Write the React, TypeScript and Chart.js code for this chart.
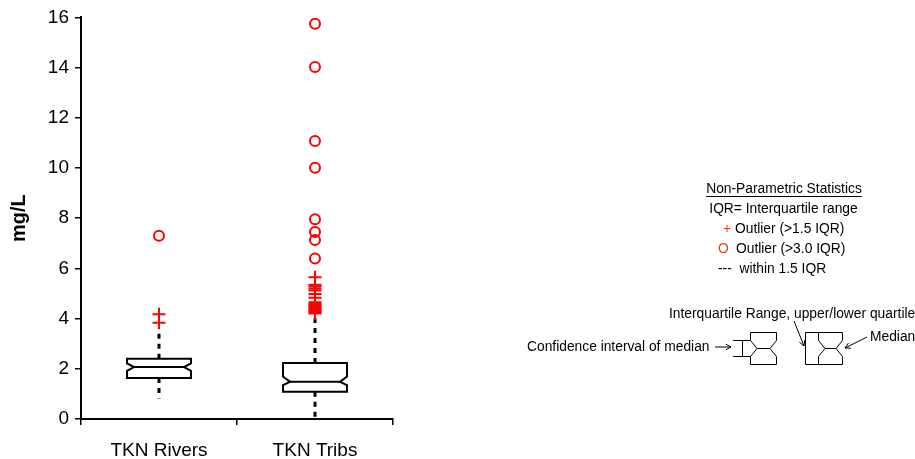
import React, { useEffect, useRef } from 'react';
import { Chart, registerables } from 'chart.js';

Chart.register(...registerables);

// ---- data ----
const categories = ['TKN Rivers', 'TKN Tribs'];
const whiskerLow = [0.82, 0.09];
const quartile1 = [1.63, 1.09];
const notchLow = [1.92, 1.35];
const medians = [2.07, 1.48];
const notchHigh = [2.22, 1.69];
const quartile3 = [2.4, 2.23];
const whiskerHigh = [3.55, 4.15];

const riversMildOutliers = [3.83, 4.17];
const riversExtremeOutliers = [7.3];
const tribsMildOutliers = [4.2, 4.24, 4.28, 4.33, 4.37, 4.42, 4.47, 4.52, 4.58, 4.65, 4.83, 4.98, 5.12, 5.2, 5.28, 5.35, 5.65];
const tribsExtremeOutliers = [6.39, 7.13, 7.45, 7.96, 10.01, 11.08, 14.02, 15.75];

const yMin = 0;
const yMax = 16;
const yStep = 2;

const FONT = '"Liberation Sans", Arial, sans-serif';
const RED = '#ff0000';

const boxPlugin = {
  id: 'notchedBoxes',
  beforeDatasetsDraw(chart: any) {
    const { ctx, scales } = chart;
    const x = scales.x;
    const y = scales.y;
    const spacing = x.getPixelForValue(1) - x.getPixelForValue(0);
    const half = spacing * 0.205;
    const depth = 7;
    ctx.save();
    categories.forEach((_, i) => {
      const cx = x.getPixelForValue(i);
      const L = cx - half;
      const R = cx + half;
      const yq3 = y.getPixelForValue(quartile3[i]);
      const yq1 = y.getPixelForValue(quartile1[i]);
      const ynh = y.getPixelForValue(notchHigh[i]);
      const ynl = y.getPixelForValue(notchLow[i]);
      const ym = y.getPixelForValue(medians[i]);
      const ywh = y.getPixelForValue(whiskerHigh[i]);
      const ywl = y.getPixelForValue(whiskerLow[i]);
      // whiskers
      ctx.strokeStyle = '#000';
      ctx.lineWidth = 3;
      ctx.setLineDash([5, 5]);
      ctx.beginPath();
      ctx.moveTo(cx, yq3);
      ctx.lineTo(cx, ywh);
      ctx.moveTo(cx, yq1);
      ctx.lineTo(cx, ywl);
      ctx.stroke();
      ctx.setLineDash([]);
      // box
      ctx.lineWidth = 2;
      ctx.lineJoin = 'miter';
      ctx.beginPath();
      ctx.moveTo(L, yq3);
      ctx.lineTo(R, yq3);
      ctx.lineTo(R, ynh);
      ctx.lineTo(R - depth, ym);
      ctx.lineTo(R, ynl);
      ctx.lineTo(R, yq1);
      ctx.lineTo(L, yq1);
      ctx.lineTo(L, ynl);
      ctx.lineTo(L + depth, ym);
      ctx.lineTo(L, ynh);
      ctx.closePath();
      ctx.fillStyle = '#fff';
      ctx.fill();
      ctx.stroke();
      ctx.beginPath();
      ctx.moveTo(L + depth, ym);
      ctx.lineTo(R - depth, ym);
      ctx.stroke();
    });
    ctx.restore();
  },
};

function arrow(ctx: CanvasRenderingContext2D, x1: number, y1: number, x2: number, y2: number) {
  ctx.beginPath();
  ctx.moveTo(x1, y1);
  ctx.lineTo(x2, y2);
  const a = Math.atan2(y2 - y1, x2 - x1);
  const h = 6;
  ctx.moveTo(x2, y2);
  ctx.lineTo(x2 - h * Math.cos(a - 0.5), y2 - h * Math.sin(a - 0.5));
  ctx.moveTo(x2, y2);
  ctx.lineTo(x2 - h * Math.cos(a + 0.5), y2 - h * Math.sin(a + 0.5));
  ctx.stroke();
}

function miniBox(ctx: CanvasRenderingContext2D, L: number, R: number, top: number, bottom: number, nh: number, m: number, nl: number, d: number) {
  ctx.beginPath();
  ctx.moveTo(L, top);
  ctx.lineTo(R, top);
  ctx.lineTo(R, nh);
  ctx.lineTo(R - d, m);
  ctx.lineTo(R, nl);
  ctx.lineTo(R, bottom);
  ctx.lineTo(L, bottom);
  ctx.lineTo(L, nl);
  ctx.lineTo(L + d, m);
  ctx.lineTo(L, nh);
  ctx.closePath();
  ctx.moveTo(L + d, m);
  ctx.lineTo(R - d, m);
  ctx.stroke();
}

const notesPlugin = {
  id: 'notes',
  afterDraw(chart: any) {
    const ctx: CanvasRenderingContext2D = chart.ctx;
    ctx.save();
    ctx.font = `13.8px ${FONT}`;
    ctx.fillStyle = '#000';
    ctx.textBaseline = 'middle';
    ctx.textAlign = 'center';
    const title = 'Non-Parametric Statistics';
    ctx.fillText(title, 784, 189);
    const tw = ctx.measureText(title).width;
    ctx.strokeStyle = '#000';
    ctx.lineWidth = 1;
    ctx.beginPath();
    ctx.moveTo(784 - tw / 2, 196.5);
    ctx.lineTo(784 + tw / 2, 196.5);
    ctx.stroke();
    ctx.fillText('IQR= Interquartile range', 783.5, 209);
    ctx.textAlign = 'left';
    ctx.fillStyle = '#f03a1e';
    ctx.fillText('+', 723, 229);
    ctx.fillText('O', 718, 249);
    ctx.fillStyle = '#000';
    ctx.fillText('Outlier (>1.5 IQR)', 735, 229);
    ctx.fillText('Outlier (>3.0 IQR)', 736, 249);
    ctx.fillText('---  within 1.5 IQR', 718, 269);

    ctx.fillText('Interquartile Range, upper/lower quartile', 669, 314);
    ctx.fillText('Confidence interval of median', 527, 347);
    ctx.fillText('Median', 870, 337);

    ctx.lineWidth = 1;
    arrow(ctx, 715, 347, 731, 347);
    arrow(ctx, 794, 321, 804, 346);
    arrow(ctx, 867, 337, 845, 348);

    // diagram 1
    miniBox(ctx, 750.5, 776.5, 332.5, 364.5, 340.5, 348.5, 356.5, 6.5);
    ctx.beginPath();
    ctx.moveTo(733, 340.5);
    ctx.lineTo(750.5, 340.5);
    ctx.moveTo(733, 356.5);
    ctx.lineTo(750.5, 356.5);
    ctx.moveTo(742.5, 340.5);
    ctx.lineTo(742.5, 356.5);
    ctx.stroke();
    // diagram 2
    miniBox(ctx, 818.5, 842.5, 332.5, 364.5, 340.5, 348.5, 356.5, 6.5);
    ctx.beginPath();
    ctx.moveTo(805.5, 332.5);
    ctx.lineTo(805.5, 364.5);
    ctx.moveTo(805.5, 332.5);
    ctx.lineTo(818.5, 332.5);
    ctx.moveTo(805.5, 364.5);
    ctx.lineTo(818.5, 364.5);
    ctx.stroke();
    ctx.restore();
  },
};

const toPoints = (cat: string, vals: number[]) => vals.map((v) => ({ x: cat, y: v }));

export default function App() {
  const canvasRef = useRef<HTMLCanvasElement>(null);

  useEffect(() => {
    const canvas = canvasRef.current;
    if (!canvas) return;
    const crossStyle = {
      pointStyle: 'cross',
      pointRadius: 6.5,
      pointBorderWidth: 2,
      pointBorderColor: RED,
      pointBackgroundColor: RED,
      showLine: false,
    };
    const circleStyle = {
      pointStyle: 'circle',
      pointRadius: 5,
      pointBorderWidth: 2,
      pointBorderColor: RED,
      pointBackgroundColor: 'rgba(0,0,0,0)',
      showLine: false,
    };
    const chart = new Chart(canvas, {
      type: 'scatter',
      data: {
        labels: categories,
        datasets: [
          { label: 'Rivers >1.5 IQR', data: toPoints(categories[0], riversMildOutliers), ...crossStyle },
          { label: 'Rivers >3.0 IQR', data: toPoints(categories[0], riversExtremeOutliers), ...circleStyle },
          { label: 'Tribs >1.5 IQR', data: toPoints(categories[1], tribsMildOutliers), ...crossStyle },
          { label: 'Tribs >3.0 IQR', data: toPoints(categories[1], tribsExtremeOutliers), ...circleStyle },
        ] as any,
      },
      options: {
        animation: false,
        responsive: true,
        maintainAspectRatio: false,
        layout: { padding: { left: 0, right: 522, top: 16, bottom: 0 } },
        plugins: { legend: { display: false }, tooltip: { enabled: false } },
        scales: {
          x: {
            type: 'category',
            labels: categories,
            offset: true,
            grid: { display: true, offset: true, drawOnChartArea: false, tickLength: 6, color: '#000', lineWidth: 1.5 },
            border: { color: '#000', width: 2 },
            ticks: { color: '#000', font: { family: FONT, size: 19 }, padding: 14 },
            afterFit: (s: any) => { s.height = 40; },
          },
          y: {
            type: 'linear',
            min: yMin,
            max: yMax,
            ticks: { stepSize: yStep, color: '#000', font: { family: FONT, size: 19 }, padding: 6 },
            grid: { display: true, drawOnChartArea: false, tickLength: 6, color: '#000', lineWidth: 1.5 },
            border: { color: '#000', width: 2 },
            title: { display: true, text: 'mg/L', color: '#000', font: { family: FONT, size: 20, weight: 'bold' }, padding: { top: 7, bottom: 0 } },
            afterFit: (s: any) => { s.width = 81; },
          },
        },
      } as any,
      plugins: [boxPlugin, notesPlugin],
    });
    return () => chart.destroy();
  }, []);

  return (
    <div style={{ position: 'absolute', left: 0, top: 0, width: 915, height: 459, background: '#fff' }}>
      <canvas ref={canvasRef} />
    </div>
  );
}
